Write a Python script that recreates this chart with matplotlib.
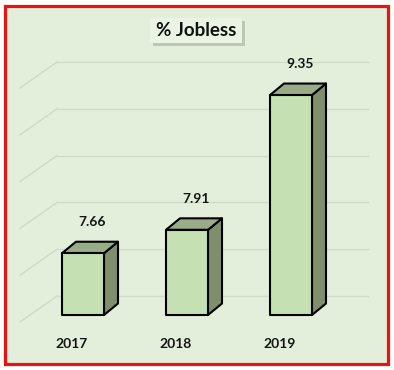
import matplotlib
matplotlib.use("Agg")
import matplotlib.pyplot as plt
from matplotlib.patches import Rectangle, Polygon

# ---- data ----
categories = ["2017", "2018", "2019"]
values = [7.66, 7.91, 9.35]
value_labels = ["7.66", "7.91", "9.35"]
grid_values = [7.0, 7.5, 8.0, 8.5, 9.0, 9.5]
title = "% Jobless"

# ---- style / geometry ----
W, H = 394, 370
PX_X, PX_Y = 104.0, 93.6          # pixels per category / per unit
base = 7.0
bar_w = 42 / PX_X
dx, dy = 14 / PX_X, 11.5 / PX_Y    # bar depth
wall_dy = 19 / PX_Y                # back wall offset
wall_x0, wall_x1 = (57 - 83) / PX_X, (368 - 83) / PX_X
diag_x = (20 - 83) / PX_X
diag_dy = 26 / PX_Y

bg = "#e3efda"
front_c = "#c5e0b3"
top_c = "#9aab87"
side_c = "#7f8f6b"
grid_c = "#cfdbc6"

plt.rcParams['font.family'] = ['Lato', 'DejaVu Sans']

fig = plt.figure(figsize=(W / 100, H / 100), dpi=100)
fig.patch.set_facecolor("white")

ax = fig.add_axes([0, 0, 1, 1])
ax.set_xlim(-83 / PX_X, (W - 83) / PX_X)
ax.set_ylim(base - (H - 315) / PX_Y, base + 315 / PX_Y)
ax.axis("off")
ax.patch.set_alpha(0)

T = ax.transAxes
# red border / chart area
ax.add_patch(Rectangle((4.5 / W, 1 - 364 / H), (388 - 4.5) / W, (364 - 5.5) / H,
                       transform=T, facecolor=bg, edgecolor="#e81414",
                       linewidth=2.3, zorder=0, clip_on=False))

# gridlines: back wall + floor diagonal
for g in grid_values:
    yb = g + wall_dy
    ax.plot([wall_x0, wall_x1], [yb, yb], color=grid_c, lw=1.0, zorder=1)
    ax.plot([diag_x, wall_x0], [yb - diag_dy, yb], color=grid_c, lw=1.0, zorder=1)

# bars
for i, v in enumerate(values):
    x0, x1 = i - bar_w / 2, i + bar_w / 2
    ax.add_patch(Polygon([(x1, base), (x1 + dx, base + dy), (x1 + dx, v + dy), (x1, v)],
                         closed=True, facecolor=side_c, edgecolor="black", lw=1.5,
                         joinstyle="round", zorder=3))
    ax.add_patch(Polygon([(x0, v), (x1, v), (x1 + dx, v + dy), (x0 + dx, v + dy)],
                         closed=True, facecolor=top_c, edgecolor="black", lw=1.5,
                         joinstyle="round", zorder=3))
    ax.add_patch(Rectangle((x0, base), bar_w, v - base, facecolor=front_c,
                           edgecolor="black", lw=1.5, joinstyle="round", zorder=4))
    ax.text(i + 0.09, v + dy + 0.21, value_labels[i], ha="center", va="center",
            fontsize=10, fontweight="bold", color="#151515", zorder=5)
    ax.text(i - 0.106, base - 29 / PX_Y, categories[i], ha="center", va="center",
            fontsize=10, fontweight="bold", color="#151515", zorder=5)

# title box with shadow
ax.add_patch(Rectangle((153 / W, 1 - 46 / H), 92 / W, 25 / H, transform=T,
                       facecolor="#b5bcb0", edgecolor="none", alpha=0.8, zorder=6))
ax.add_patch(Rectangle((150 / W, 1 - 43 / H), 92 / W, 25 / H, transform=T,
                       facecolor="#ebf3e5", edgecolor="none", zorder=7))
ax.text(196 / W, 1 - 31 / H, title, transform=T, ha="center", va="center",
        fontsize=13.5, fontweight="bold", color="#111111", zorder=8)

fig.savefig("out.png", dpi=100, facecolor=fig.get_facecolor())
